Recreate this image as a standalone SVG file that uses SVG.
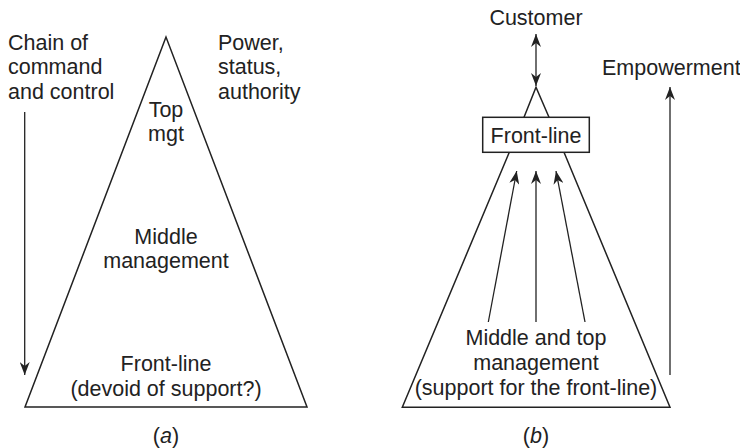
<svg xmlns="http://www.w3.org/2000/svg" width="740" height="448" viewBox="0 0 740 448">
<defs>
<marker id="ahb" viewBox="0 0 10 10" refX="10" refY="5" markerWidth="13" markerHeight="10" markerUnits="userSpaceOnUse" orient="auto-start-reverse" preserveAspectRatio="none">
<path d="M0,0 L10,5 L0,10 L3,5 z" fill="#222"/>
</marker>
</defs>
<style>
text{font-family:"Liberation Sans",Arial,sans-serif;font-size:21.5px;fill:#222}
.c{text-anchor:middle}
.shape{fill:none;stroke:#222;stroke-width:1.5}
.ln{fill:none;stroke:#222;stroke-width:1.3}
</style>
<rect width="740" height="448" fill="#fff"/>
<g id="pyramid-a">
<polygon class="shape" points="166,37 25,407 307,407"/>
<text class="c" x="166" y="117">Top</text>
<text class="c" x="166" y="141">mgt</text>
<text class="c" x="166" y="244">Middle</text>
<text class="c" x="166" y="268">management</text>
<text class="c" x="166" y="371">Front-line</text>
<text class="c" x="166" y="396">(devoid of support?)</text>
<text class="c" x="166" y="443">(<tspan font-style="italic">a</tspan>)</text>
</g>
<g id="label-chain">
<text x="8" y="50">Chain of</text>
<text x="8" y="74">command</text>
<text x="8" y="99">and control</text>
</g>
<g id="label-power">
<text x="218" y="50">Power,</text>
<text x="218" y="74">status,</text>
<text x="218" y="99">authority</text>
</g>
<g id="customer">
<text class="c" x="536" y="25">Customer</text>
</g>
<g id="pyramid-b">
<polyline class="shape" points="524,117.3 536,87.3 549,117.3"/>
<polyline class="shape" points="509.3,152.3 402.3,407.3 670,407.3 564,152.3"/>
<text class="c" x="536" y="395">(support for the front-line)</text>
<text class="c" x="536" y="345">Middle and top</text>
<text class="c" x="536" y="370">management</text>
<text class="c" x="536" y="443">(<tspan font-style="italic">b</tspan>)</text>
</g>
<g id="frontline-box">
<rect class="shape" x="482.7" y="117.3" width="106.6" height="35"/>
<text class="c" x="536" y="143">Front-line</text>
</g>
<g id="label-empowerment">
<text x="602" y="75">Empowerment</text>
</g>
<g id="connectors">
<line class="ln" x1="24.7" y1="112" x2="24.7" y2="375" marker-end="url(#ahb)"/>
<line class="ln" x1="536" y1="34" x2="536" y2="86" marker-start="url(#ahb)" marker-end="url(#ahb)"/>
<line class="ln" x1="488.3" y1="322" x2="516.7" y2="171" marker-end="url(#ahb)"/>
<line class="ln" x1="536" y1="322" x2="536" y2="171" marker-end="url(#ahb)"/>
<line class="ln" x1="585" y1="322" x2="556" y2="171" marker-end="url(#ahb)"/>
<line class="ln" x1="670" y1="375" x2="670" y2="87" marker-end="url(#ahb)"/>
</g>
</svg>
